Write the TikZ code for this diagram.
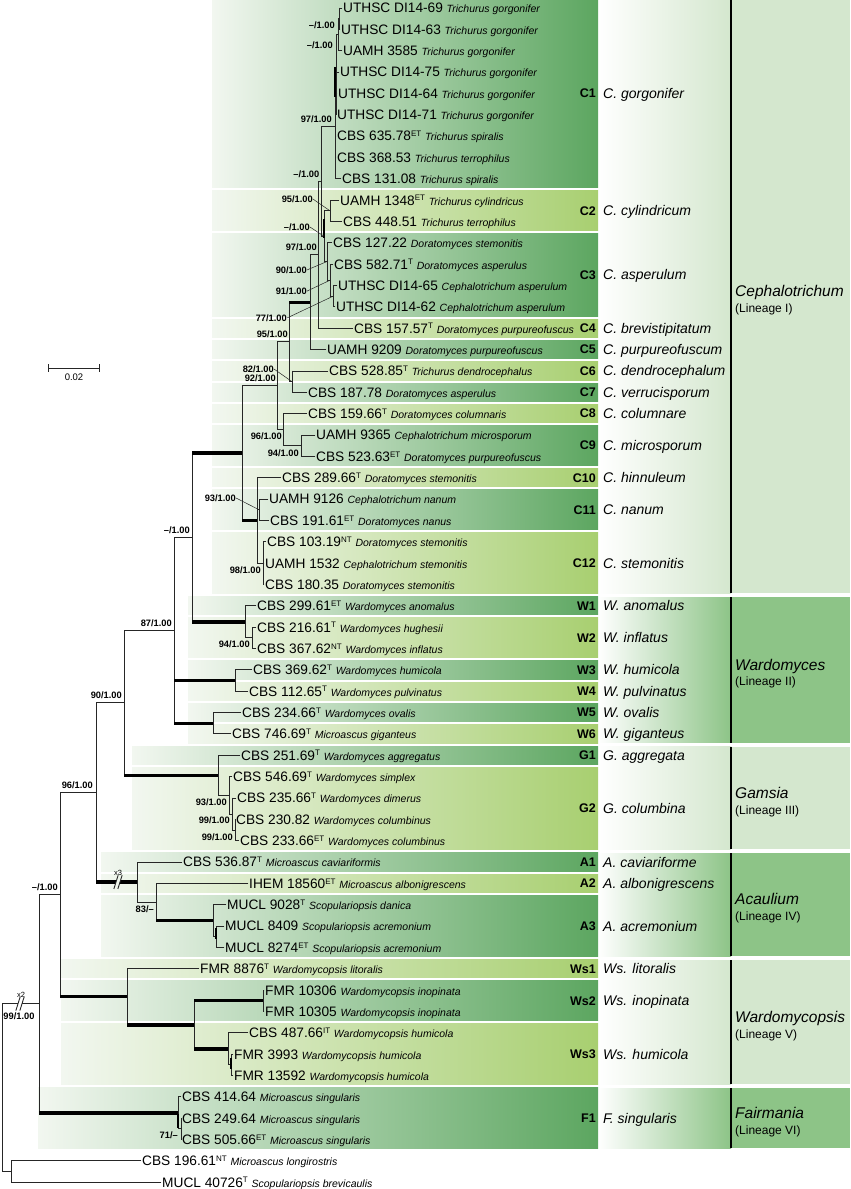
\documentclass[tikz,border=0pt]{standalone}
\usepackage{fontspec}
\setmainfont{Liberation Sans}
\usetikzlibrary{calc}

\definecolor{dkg}{RGB}{92,166,96}
\definecolor{ltg}{RGB}{168,207,112}
\definecolor{fade}{RGB}{242,247,240}
\definecolor{pale}{RGB}{212,231,206}
\definecolor{mid}{RGB}{141,196,135}

\newcommand{\stype}[1]{\raisebox{4.2pt}{\fontsize{8}{8}\selectfont #1}}
\newcommand{\spn}[1]{{\fontsize{10.5}{12}\selectfont\itshape #1}}
\newcommand{\taxon}[5]{%
  \coordinate (#1) at ({#3-1},#4);
  \node[tiplab] (#1-l) at (#3,#4) {#5};
  \draw[br] (#2 |- #1) -- (#1);}
\newcommand{\cladeband}[6]{%
  \shade[left color=fade,right color=#4] (#1,{#2-0.43}) rectangle (598,{#3+0.43});
  \node[cladelab] (#5) at (596,{(#2+#3)/2}) {#5};
  \node[splab] (sp#5) at (603,{(#2+#3)/2}) {#6};}
\newcommand{\lineagecol}[6]{%
  \shade[left color=white,right color=#3] (598,{#1-0.41}) rectangle (731,{#2+0.41});
  \fill[#3] (731,{#1-0.41}) rectangle (850,{#2+0.41});
  \draw[line width=1.6pt] (731,{#1-0.41}) -- (731,{#2+0.41});
  \node[genlab] (#4) at (735,{(#1+#2)/2-0.25}) {#5};
  \node[linlab] (#4-l) at (735,{(#1+#2)/2+0.55}) {#6};}

\begin{document}
\begin{tikzpicture}[x=1pt,y=-21.35pt,
  br/.style={line width=0.9pt,line cap=rect,black!85},
  thk/.style={line width=3.4pt,black},
  lead/.style={line width=0.5pt,black!85,shorten >=0.5pt},
  tiplab/.style={anchor=base west,inner sep=0pt,yshift=-4.9pt,font=\fontsize{13.7}{15}\selectfont},
  bs/.style={anchor=east,inner sep=0pt,font=\fontsize{9.3}{10}\selectfont\bfseries},
  cladelab/.style={anchor=east,inner sep=0pt,font=\fontsize{12.5}{14}\selectfont\bfseries},
  splab/.style={anchor=base west,inner sep=0pt,yshift=-5pt,font=\fontsize{14}{16}\selectfont\itshape},
  genlab/.style={anchor=base west,inner sep=0pt,yshift=-5.5pt,font=\fontsize{15.5}{17}\selectfont\itshape},
  linlab/.style={anchor=base west,inner sep=0pt,yshift=-4.3pt,font=\fontsize{12}{14}\selectfont},
  mk/.style={inner sep=0pt,font=\fontsize{7.5}{8}\selectfont}]
\useasboundingbox (0,-0.3747) rectangle (850,55.316);

% lineages
\lineagecol{0}{27}{pale}{Ceph}{Cephalotrichum}{(Lineage I)}
\lineagecol{28}{34}{mid}{Ward}{Wardomyces}{(Lineage II)}
\lineagecol{35}{39}{pale}{Gams}{Gamsia}{(Lineage III)}
\lineagecol{40}{44}{mid}{Acau}{Acaulium}{(Lineage IV)}
\lineagecol{45}{50}{pale}{Wdps}{Wardomycopsis}{(Lineage V)}
\lineagecol{51}{53}{mid}{Fair}{Fairmania}{(Lineage VI)}

% clade bands
\cladeband{212}{0}{8}{dkg}{C1}{C. gorgonifer}
\cladeband{212}{9}{10}{ltg}{C2}{C. cylindricum}
\cladeband{212}{11}{14}{dkg}{C3}{C. asperulum}
\cladeband{212}{15}{15}{ltg}{C4}{C. brevistipitatum}
\cladeband{212}{16}{16}{dkg}{C5}{C. purpureofuscum}
\cladeband{212}{17}{17}{ltg}{C6}{C. dendrocephalum}
\cladeband{212}{18}{18}{dkg}{C7}{C. verrucisporum}
\cladeband{212}{19}{19}{ltg}{C8}{C. columnare}
\cladeband{212}{20}{21}{dkg}{C9}{C. microsporum}
\cladeband{212}{22}{22}{ltg}{C10}{C. hinnuleum}
\cladeband{212}{23}{24}{dkg}{C11}{C. nanum}
\cladeband{212}{25}{27}{ltg}{C12}{C. stemonitis}
\cladeband{188}{28}{28}{dkg}{W1}{W. anomalus}
\cladeband{188}{29}{30}{ltg}{W2}{W. inflatus}
\cladeband{188}{31}{31}{dkg}{W3}{W. humicola}
\cladeband{188}{32}{32}{ltg}{W4}{W. pulvinatus}
\cladeband{188}{33}{33}{dkg}{W5}{W. ovalis}
\cladeband{188}{34}{34}{ltg}{W6}{W. giganteus}
\cladeband{132}{35}{35}{dkg}{G1}{G. aggregata}
\cladeband{132}{36}{39}{ltg}{G2}{G. columbina}
\cladeband{101}{40}{40}{dkg}{A1}{A. caviariforme}
\cladeband{101}{41}{41}{ltg}{A2}{A. albonigrescens}
\cladeband{101}{42}{44}{dkg}{A3}{A. acremonium}
\cladeband{61}{45}{45}{ltg}{Ws1}{Ws. litoralis}
\cladeband{61}{46}{47}{dkg}{Ws2}{Ws. inopinata}
\cladeband{61}{48}{50}{ltg}{Ws3}{Ws. humicola}
\cladeband{38}{51}{53}{dkg}{F1}{F. singularis}

% scale bar
\coordinate (sb1) at (48,16.86);
\coordinate (sb2) at (100,16.86);
\draw[br,|-|] (sb1) -- (sb2);
\node[font=\fontsize{9.5}{10}\selectfont,inner sep=0pt] (sbl) at (74,17.3) {0.02};

% internal nodes
\coordinate (c1ab) at (339.5,0.5);
\coordinate (c1a) at (338,1.25);
\coordinate (cX) at (336.5,3.125);
\coordinate (c1) at (335,5.56);
\coordinate (nb) at (321,8.125);
\coordinate (c2) at (330,9.5);
\coordinate (c3c) at (333,13.5);
\coordinate (c3b) at (330,12.75);
\coordinate (c3) at (327,11.875);
\coordinate (nc) at (324,10.69);
\coordinate (n97) at (318,11.56);
\coordinate (n310) at (310,13.78);
\coordinate (c67) at (292,17.5);
\coordinate (n289) at (289,15.64);
\coordinate (c9) at (301,20.5);
\coordinate (c89) at (283,19.75);
\coordinate (n277) at (277,17.7);
\coordinate (c11) at (259,23.5);
\coordinate (c12) at (263,26);
\coordinate (n257) at (257,24);
\coordinate (n242) at (242,20.85);
\coordinate (w2) at (252,29.5);
\coordinate (w12) at (245,28.75);
\coordinate (w34) at (235,31.5);
\coordinate (w56) at (213,33.5);
\coordinate (n192) at (192,24.8);
\coordinate (n174) at (174,29.15);
\coordinate (g2c) at (235,38.5);
\coordinate (g2b) at (232,37.75);
\coordinate (g2a) at (229,36.875);
\coordinate (g) at (218,35.94);
\coordinate (n124) at (124,32.54);
\coordinate (a3b) at (216,43.5);
\coordinate (a3) at (213,42.75);
\coordinate (a23) at (156,41.875);
\coordinate (a) at (137,40.94);
\coordinate (n96) at (96,36.74);
\coordinate (ws2) at (263,46.5);
\coordinate (ws3b) at (231,49.5);
\coordinate (ws3) at (228,48.75);
\coordinate (ws23) at (194,47.625);
\coordinate (ws) at (127,46.31);
\coordinate (n60) at (60,41.53);
\coordinate (f1b) at (181,52.5);
\coordinate (f1) at (178,51.75);
\coordinate (n39) at (39,46.64);
\coordinate (og) at (11,54.5);
\coordinate (root) at (2,50.57);

% taxa
\taxon{t1}{c1ab}{343}{0}{UTHSC DI14-69 \spn{Trichurus gorgonifer}}
\taxon{t2}{c1ab}{341}{1}{UTHSC DI14-63 \spn{Trichurus gorgonifer}}
\taxon{t3}{c1a}{343}{2}{UAMH 3585 \spn{Trichurus gorgonifer}}
\taxon{t4}{cX}{340}{3}{UTHSC DI14-75 \spn{Trichurus gorgonifer}}
\taxon{t5}{cX}{338}{4}{UTHSC DI14-64 \spn{Trichurus gorgonifer}}
\taxon{t6}{cX}{337}{5}{UTHSC DI14-71 \spn{Trichurus gorgonifer}}
\taxon{t7}{c1}{337}{6}{CBS 635.78\stype{ET} \spn{Trichurus spiralis}}
\taxon{t8}{c1}{337}{7}{CBS 368.53 \spn{Trichurus terrophilus}}
\taxon{t9}{c1}{342}{8}{CBS 131.08 \spn{Trichurus spiralis}}
\taxon{t10}{c2}{340}{9}{UAMH 1348\stype{ET} \spn{Trichurus cylindricus}}
\taxon{t11}{c2}{343}{10}{CBS 448.51 \spn{Trichurus terrophilus}}
\taxon{t12}{c3}{333}{11}{CBS 127.22 \spn{Doratomyces stemonitis}}
\taxon{t13}{c3b}{334}{12}{CBS 582.71\stype{T} \spn{Doratomyces asperulus}}
\taxon{t14}{c3c}{338}{13}{UTHSC DI14-65 \spn{Cephalotrichum asperulum}}
\taxon{t15}{c3c}{336}{14}{UTHSC DI14-62 \spn{Cephalotrichum asperulum}}
\taxon{t16}{n97}{354}{15}{CBS 157.57\stype{T} \spn{Doratomyces purpureofuscus}}
\taxon{t17}{n310}{327}{16}{UAMH 9209 \spn{Doratomyces purpureofuscus}}
\taxon{t18}{c67}{329}{17}{CBS 528.85\stype{T} \spn{Trichurus dendrocephalus}}
\taxon{t19}{c67}{308}{18}{CBS 187.78 \spn{Doratomyces asperulus}}
\taxon{t20}{c89}{308}{19}{CBS 159.66\stype{T} \spn{Doratomyces columnaris}}
\taxon{t21}{c9}{316}{20}{UAMH 9365 \spn{Cephalotrichum microsporum}}
\taxon{t22}{c9}{316}{21}{CBS 523.63\stype{ET} \spn{Doratomyces purpureofuscus}}
\taxon{t23}{n257}{282}{22}{CBS 289.66\stype{T} \spn{Doratomyces stemonitis}}
\taxon{t24}{c11}{269}{23}{UAMH 9126 \spn{Cephalotrichum nanum}}
\taxon{t25}{c11}{270}{24}{CBS 191.61\stype{ET} \spn{Doratomyces nanus}}
\taxon{t26}{c12}{267}{25}{CBS 103.19\stype{NT} \spn{Doratomyces stemonitis}}
\taxon{t27}{c12}{265}{26}{UAMH 1532 \spn{Cephalotrichum stemonitis}}
\taxon{t28}{c12}{265}{27}{CBS 180.35 \spn{Doratomyces stemonitis}}
\taxon{t29}{w12}{257}{28}{CBS 299.61\stype{ET} \spn{Wardomyces anomalus}}
\taxon{t30}{w2}{257}{29}{CBS 216.61\stype{T} \spn{Wardomyces hughesii}}
\taxon{t31}{w2}{257}{30}{CBS 367.62\stype{NT} \spn{Wardomyces inflatus}}
\taxon{t32}{w34}{253}{31}{CBS 369.62\stype{T} \spn{Wardomyces humicola}}
\taxon{t33}{w34}{249}{32}{CBS 112.65\stype{T} \spn{Wardomyces pulvinatus}}
\taxon{t34}{w56}{242}{33}{CBS 234.66\stype{T} \spn{Wardomyces ovalis}}
\taxon{t35}{w56}{232}{34}{CBS 746.69\stype{T} \spn{Microascus giganteus}}
\taxon{t36}{g}{241}{35}{CBS 251.69\stype{T} \spn{Wardomyces aggregatus}}
\taxon{t37}{g2a}{233}{36}{CBS 546.69\stype{T} \spn{Wardomyces simplex}}
\taxon{t38}{g2b}{237}{37}{CBS 235.66\stype{T} \spn{Wardomyces dimerus}}
\taxon{t39}{g2c}{236}{38}{CBS 230.82 \spn{Wardomyces columbinus}}
\taxon{t40}{g2c}{240}{39}{CBS 233.66\stype{ET} \spn{Wardomyces columbinus}}
\taxon{t41}{a}{183}{40}{CBS 536.87\stype{T} \spn{Microascus caviariformis}}
\taxon{t42}{a23}{249}{41}{IHEM 18560\stype{ET} \spn{Microascus albonigrescens}}
\taxon{t43}{a3}{227}{42}{MUCL 9028\stype{T} \spn{Scopulariopsis danica}}
\taxon{t44}{a3b}{225}{43}{MUCL 8409 \spn{Scopulariopsis acremonium}}
\taxon{t45}{a3b}{225}{44}{MUCL 8274\stype{ET} \spn{Scopulariopsis acremonium}}
\taxon{t46}{ws}{200}{45}{FMR 8876\stype{T} \spn{Wardomycopsis litoralis}}
\taxon{t47}{ws2}{265}{46}{FMR 10306 \spn{Wardomycopsis inopinata}}
\taxon{t48}{ws2}{265}{47}{FMR 10305 \spn{Wardomycopsis inopinata}}
\taxon{t49}{ws3}{249}{48}{CBS 487.66\stype{IT} \spn{Wardomycopsis humicola}}
\taxon{t50}{ws3b}{234}{49}{FMR 3993 \spn{Wardomycopsis humicola}}
\taxon{t51}{ws3b}{234}{50}{FMR 13592 \spn{Wardomycopsis humicola}}
\taxon{t52}{f1}{182}{51}{CBS 414.64 \spn{Microascus singularis}}
\taxon{t53}{f1b}{182}{52}{CBS 249.64 \spn{Microascus singularis}}
\taxon{t54}{f1b}{182}{53}{CBS 505.66\stype{ET} \spn{Microascus singularis}}
\taxon{t55}{og}{142}{54}{CBS 196.61\stype{NT} \spn{Microascus longirostris}}
\taxon{t56}{og}{162}{55}{MUCL 40726\stype{T} \spn{Scopulariopsis brevicaulis}}

% verticals
\draw[br] (c1ab |- t1) -- (c1ab |- t2);
\draw[br] (c1a |- c1ab) -- (c1a |- t3);
\draw[br] (cX |- c1a) -- (cX |- t6);
\draw[br] (c1 |- cX) -- (c1 |- t9);
\draw[br] (nb |- c1) -- (nb |- nc);
\draw[br] (nc |- c2) -- (nc |- c3);
\draw[br] (c2 |- t10) -- (c2 |- t11);
\draw[br] (c3 |- t12) -- (c3 |- c3b);
\draw[br] (c3b |- t13) -- (c3b |- c3c);
\draw[br] (c3c |- t14) -- (c3c |- t15);
\draw[br] (n97 |- nb) -- (n97 |- t16);
\draw[br] (n310 |- n97) -- (n310 |- t17);
\draw[br] (n289 |- n310) -- (n289 |- c67);
\draw[br] (c67 |- t18) -- (c67 |- t19);
\draw[br] (n277 |- n289) -- (n277 |- c89);
\draw[br] (c89 |- t20) -- (c89 |- c9);
\draw[br] (c9 |- t21) -- (c9 |- t22);
\draw[br] (n242 |- n277) -- (n242 |- n257);
\draw[br] (n257 |- t23) -- (n257 |- c12);
\draw[br] (c11 |- t24) -- (c11 |- t25);
\draw[br] (c12 |- t26) -- (c12 |- t28);
\draw[br] (n192 |- n242) -- (n192 |- w12);
\draw[br] (w12 |- t29) -- (w12 |- w2);
\draw[br] (w2 |- t30) -- (w2 |- t31);
\draw[br] (w34 |- t32) -- (w34 |- t33);
\draw[br] (w56 |- t34) -- (w56 |- t35);
\draw[br] (n174 |- n192) -- (n174 |- w56);
\draw[br] (n124 |- n174) -- (n124 |- g);
\draw[br] (g |- t36) -- (g |- g2a);
\draw[br] (g2a |- t37) -- (g2a |- g2b);
\draw[br] (g2b |- t38) -- (g2b |- g2c);
\draw[br] (g2c |- t39) -- (g2c |- t40);
\draw[br] (n96 |- n124) -- (n96 |- a);
\draw[br] (a |- t41) -- (a |- a23);
\draw[br] (a23 |- t42) -- (a23 |- a3);
\draw[br] (a3 |- t43) -- (a3 |- a3b);
\draw[br] (a3b |- t44) -- (a3b |- t45);
\draw[br] (n60 |- n96) -- (n60 |- ws);
\draw[br] (ws |- t46) -- (ws |- ws23);
\draw[br] (ws23 |- ws2) -- (ws23 |- ws3);
\draw[br] (ws2 |- t47) -- (ws2 |- t48);
\draw[br] (ws3 |- t49) -- (ws3 |- ws3b);
\draw[br] (ws3b |- t50) -- (ws3b |- t51);
\draw[br] (n39 |- n60) -- (n39 |- f1);
\draw[br] (f1 |- t52) -- (f1 |- f1b);
\draw[br] (f1b |- t53) -- (f1b |- t54);
\draw[br] (og |- t55) -- (og |- t56);
\draw[br] (root |- n39) -- (root |- og);

% stems
\draw[br] (c1a |- c1ab) -- (c1ab);
\draw[br] (cX |- c1a) -- (c1a);
\draw[br] (c1 |- cX) -- (cX);
\draw[br] (nb |- c1) -- (c1);
\draw[br] (n97 |- nb) -- (nb);
\draw[br] (nb |- nc) -- (nc);
\draw[br] (nc |- c2) -- (c2);
\draw[br] (nc |- c3) -- (c3);
\draw[br] (c3 |- c3b) -- (c3b);
\draw[br] (c3b |- c3c) -- (c3c);
\draw[br] (n310 |- n97) -- (n97);
\draw[thk] (n289 |- n310) -- (n310);
\draw[br] (n289 |- c67) -- (c67);
\draw[br] (n277 |- n289) -- (n289);
\draw[br] (n277 |- c89) -- (c89);
\draw[br] (c89 |- c9) -- (c9);
\draw[br] (n242 |- n277) -- (n277);
\draw[thk] (n242 |- n257) -- (n257);
\draw[br] (n257 |- c11) -- (c11);
\draw[br] (n257 |- c12) -- (c12);
\draw[thk] (n192 |- n242) -- (n242);
\draw[thk] (n192 |- w12) -- (w12);
\draw[br] (w12 |- w2) -- (w2);
\draw[br] (n174 |- n192) -- (n192);
\draw[thk] (n174 |- w34) -- (w34);
\draw[thk] (n174 |- w56) -- (w56);
\draw[br] (n124 |- n174) -- (n174);
\draw[thk] (n124 |- g) -- (g);
\draw[br] (g |- g2a) -- (g2a);
\draw[br] (g2a |- g2b) -- (g2b);
\draw[br] (g2b |- g2c) -- (g2c);
\draw[br] (n96 |- n124) -- (n124);
\draw[thk] (n96 |- a) -- ($(a)+(-21,0)$);
\draw[thk] ($(a)+(-17,0)$) -- (a);
\draw[br] ($(a)+(-23,0.3)$) -- ($(a)+(-19,-0.3)$);
\draw[br] ($(a)+(-19,0.3)$) -- ($(a)+(-15,-0.3)$);
\draw[br] (a |- a23) -- (a23);
\draw[thk] (a23 |- a3) -- (a3);
\draw[br] (a3 |- a3b) -- (a3b);
\draw[br] (n60 |- n96) -- (n96);
\draw[thk] (n60 |- ws) -- (ws);
\draw[thk] (ws |- ws23) -- (ws23);
\draw[thk] (ws23 |- ws2) -- (ws2);
\draw[thk] (ws23 |- ws3) -- (ws3);
\draw[br] (ws3 |- ws3b) -- (ws3b);
\draw[br] (n39 |- n60) -- (n60);
\draw[thk] (n39 |- f1) -- (f1);
\draw[br] (f1 |- f1b) -- (f1b);
\draw[br] (root |- n39) -- ($(n39)+(-21,0)$);
\draw[br] ($(n39)+(-17,0)$) -- (n39);
\draw[br] ($(n39)+(-23,0.3)$) -- ($(n39)+(-19,-0.3)$);
\draw[br] ($(n39)+(-19,0.3)$) -- ($(n39)+(-15,-0.3)$);
\draw[br] (root |- og) -- (og);

% short thick bits
\draw[thk,line width=2.2pt] ($(c1)+(0,-2.8)$) -- ($(c1)+(0,-1.4)$);
\draw[thk,line width=2.2pt] ($(nc)+(0,-0.8)$) -- ($(nc)+(0,0.1)$);
\draw[thk,line width=2.2pt] ($(a3b)+(0,-0.4)$) -- ($(a3b)+(0,0.1)$);
\draw[thk,line width=2.2pt] ($(ws3b)+(0,-0.3)$) -- ($(ws3b)+(0,0.2)$);
\draw[thk,line width=2.2pt] ($(f1)+(0,0.05)$) -- ($(f1)+(0,0.7)$);

% support values
\node[bs] (s1) at (335,0.8) {--/1.00};
\node[bs] (s2) at (333,1.75) {--/1.00};
\node[bs] (s3) at (332,5.22) {97/1.00};
\node[bs] (s4) at (319.5,7.8) {--/1.00};
\node[bs] (s5) at (313,8.95) {95/1.00};
\node[bs] (s6) at (310,10.26) {--/1.00};
\node[bs] (s7) at (317,11.22) {97/1.00};
\node[bs] (s8) at (307,12.27) {90/1.00};
\node[bs] (s9) at (307,13.26) {91/1.00};
\node[bs] (s10) at (287,14.52) {77/1.00};
\node[bs] (s11) at (288,15.3) {95/1.00};
\node[bs] (s12) at (274,16.91) {82/1.00};
\node[bs] (s13) at (276,17.36) {92/1.00};
\node[bs] (s14) at (282,20.05) {96/1.00};
\node[bs] (s15) at (299,20.84) {94/1.00};
\node[bs] (s16) at (236,22.95) {93/1.00};
\node[bs] (s17) at (261,26.32) {98/1.00};
\node[bs] (s18) at (190,24.46) {--/1.00};
\node[bs] (s19) at (172,28.81) {87/1.00};
\node[bs] (s20) at (250,29.8) {94/1.00};
\node[bs] (s21) at (122,32.2) {90/1.00};
\node[bs] (s22) at (93,36.4) {96/1.00};
\node[bs] (s23) at (227,37.2) {93/1.00};
\node[bs] (s24) at (230,38.05) {99/1.00};
\node[bs] (s25) at (233,38.82) {99/1.00};
\node[bs] (s26) at (154,42.2) {83/--};
\node[bs] (s27) at (58,41.19) {--/1.00};
\node[bs,anchor=center] (s28) at ($(n39)+(-20,0.6)$) {99/1.00};
\node[bs] (s29) at (178,52.8) {71/--};
\node[mk] (x3) at ($(a)+(-19,-0.45)$) {x3};
\node[mk] (x2) at ($(n39)+(-18,-0.42)$) {x2};

\draw[lead] (s5.east) -- (c2);
\draw[lead] (s6.east) -- (nc);
\draw[lead] (s8.east) -- (c3);
\draw[lead] (s9.east) -- (c3b);
\draw[lead] (s10.east) -- (c3c);
\draw[lead] (s12.east) -- (c67);
\draw[lead] (s16.east) -- (c11);
\end{tikzpicture}
\end{document}
